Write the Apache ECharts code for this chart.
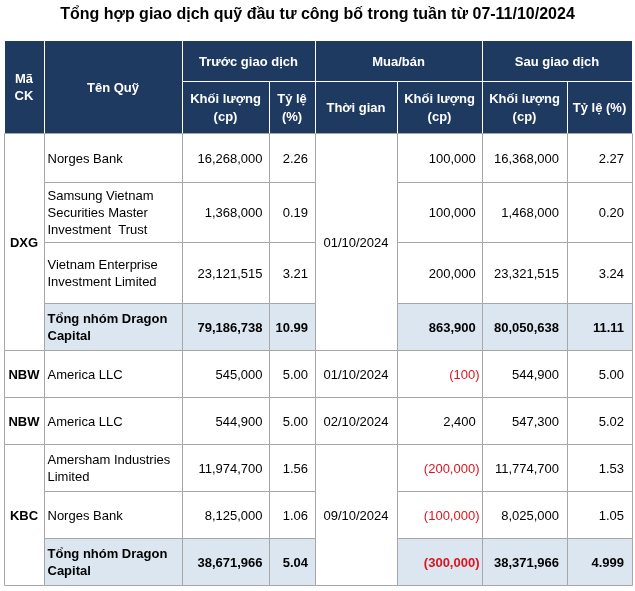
<!DOCTYPE html>
<html>
<head>
<meta charset="utf-8">
<script src="https://cdn.jsdelivr.net/npm/echarts@6/dist/echarts.min.js"></script>
<style>html,body{margin:0;padding:0;background:#fff}#c{width:635px;height:591px}</style>
</head>
<body>
<div id="c"></div>
<script>
// ---- data ----
const titleText = 'Tổng hợp giao dịch quỹ đầu tư công bố trong tuần từ 07-11/10/2024';
const groupHeaders = ['Trước giao dịch', 'Mua/bán', 'Sau giao dịch'];
const subHeaders = ['Khối lượng\n(cp)', 'Tỷ lệ\n(%)', 'Thời gian', 'Khối lượng\n(cp)', 'Khối lượng\n(cp)', 'Tỷ lệ (%)'];
const tickerHeader = 'Mã\nCK';
const fundHeader = 'Tên Quỹ';
const tickers = ['DXG', 'NBW', 'NBW', 'KBC'];
const tickerSpans = [[0, 3], [4, 4], [5, 5], [6, 8]];
const tradeDates = ['01/10/2024', '01/10/2024', '02/10/2024', '09/10/2024'];
const fundNames = ['Norges Bank', 'Samsung Vietnam\nSecurities Master\nInvestment  Trust', 'Vietnam Enterprise\nInvestment Limited', 'Tổng nhóm Dragon\nCapital', 'America LLC', 'America LLC', 'Amersham Industries\nLimited', 'Norges Bank', 'Tổng nhóm Dragon\nCapital'];
const beforeVol = [16268000, 1368000, 23121515, 79186738, 545000, 544900, 11974700, 8125000, 38671966];
const beforePct = ['2.26', '0.19', '3.21', '10.99', '5.00', '5.00', '1.56', '1.06', '5.04'];
const tradeVol = [100000, 100000, 200000, 863900, -100, 2400, -200000, -100000, -300000];
const afterVol = [16368000, 1468000, 23321515, 80050638, 544900, 547300, 11774700, 8025000, 38371966];
const afterPct = ['2.27', '0.20', '3.24', '11.11', '5.00', '5.02', '1.53', '1.05', '4.999'];
const totalRows = [3, 8];

// ---- layout ----
const colEdges = [4, 44, 182, 269, 315, 397, 482, 567, 632];
const rowEdges = [40, 81, 133, 182, 242, 303, 350, 397, 444, 491, 538, 585];
const NAVY = '#1f3a60', LIGHT = '#dce6f1', GRID = '#a6a6a6', RED = '#dc141e';
const FONT = '"Liberation Sans", Arial, sans-serif';

const cells = [];
function cell(c0, c1, r0, r1, o) {
  cells.push(Object.assign({ x0: colEdges[c0], x1: colEdges[c1], y0: rowEdges[r0], y1: rowEdges[r1] }, o));
}
// header
const H = { fill: NAVY, stroke: '#ffffff', color: '#ffffff', bold: true, align: 'center', lh: 18 };
cell(0, 1, 0, 2, Object.assign({ text: tickerHeader }, H, { lh: 17 }));
cell(1, 2, 0, 2, Object.assign({ text: fundHeader }, H));
groupHeaders.forEach((t, i) => cell(2 + 2 * i, 4 + 2 * i, 0, 1, Object.assign({ text: t }, H)));
subHeaders.forEach((t, i) => cell(2 + i, 3 + i, 1, 2, Object.assign({ text: t }, H)));
// spans
tickerSpans.forEach((s, i) => {
  cell(0, 1, s[0] + 2, s[1] + 3, { text: tickers[i], fill: '#fff', stroke: GRID, color: '#000', bold: true, align: 'center' });
  cell(4, 5, s[0] + 2, s[1] + 3, { text: tradeDates[i], fill: '#fff', stroke: GRID, color: '#000', bold: false, align: 'center' });
});
function fmt(v) { return Math.abs(v).toLocaleString('en-US'); }
fundNames.forEach((n, i) => {
  const tot = totalRows.indexOf(i) >= 0;
  const base = { fill: tot ? LIGHT : '#fff', stroke: GRID, color: '#000', bold: tot };
  const r = i + 2;
  cell(1, 2, r, r + 1, Object.assign({}, base, { text: n, align: 'left', pad: 3.5 }));
  cell(2, 3, r, r + 1, Object.assign({}, base, { text: fmt(beforeVol[i]), align: 'right', pad: 6.5 }));
  cell(3, 4, r, r + 1, Object.assign({}, base, { text: beforePct[i], align: 'right', pad: 7 }));
  const neg = tradeVol[i] < 0;
  cell(5, 6, r, r + 1, Object.assign({}, base, { text: neg ? '(' + fmt(tradeVol[i]) + ')' : fmt(tradeVol[i]), color: neg ? RED : '#000', align: 'right', pad: neg ? 2.5 : 6.3 }));
  cell(6, 7, r, r + 1, Object.assign({}, base, { text: fmt(afterVol[i]), align: 'right', pad: 8 }));
  cell(7, 8, r, r + 1, Object.assign({}, base, { text: afterPct[i], align: 'right', pad: 8 }));
});

const chart = echarts.init(document.getElementById('c'), null, { renderer: 'canvas' });
chart.setOption({
  animation: false,
  backgroundColor: '#ffffff',
  title: { text: titleText, left: 'center', top: 2, textStyle: { fontFamily: FONT, fontSize: 16, fontWeight: 'bold', color: '#000' } },
  grid: { left: 0, right: 0, top: 0, bottom: 0 },
  xAxis: { type: 'value', min: 0, max: 635, show: false },
  yAxis: { type: 'value', min: 0, max: 591, inverse: true, show: false },
  series: [{
    type: 'custom',
    coordinateSystem: 'cartesian2d',
    data: cells.map((c, i) => [c.x0, c.y0, c.x1, c.y1, i]),
    renderItem: function (params, api) {
      const c = cells[api.value(4)];
      const p0 = api.coord([api.value(0), api.value(1)]);
      const p1 = api.coord([api.value(2), api.value(3)]);
      const x = Math.round(p0[0]) + 0.5, y = Math.round(p0[1]) + 0.5;
      const w = Math.round(p1[0]) - Math.round(p0[0]), h = Math.round(p1[1]) - Math.round(p0[1]);
      let tx;
      if (c.align === 'left') tx = p0[0] + c.pad;
      else if (c.align === 'right') tx = p1[0] - c.pad;
      else tx = (p0[0] + p1[0]) / 2;
      return {
        type: 'group',
        children: [
          { type: 'rect', shape: { x: x, y: y, width: w, height: h }, style: { fill: c.fill, stroke: c.stroke, lineWidth: 1 } },
          { type: 'text', style: { x: tx, y: (p0[1] + p1[1]) / 2 + 1.5, text: c.text, fill: c.color, fontFamily: FONT, fontSize: 13, fontWeight: c.bold ? 'bold' : 'normal', align: c.align, verticalAlign: 'middle', lineHeight: c.lh || 17 } }
        ]
      };
    }
  }]
});
</script>
</body>
</html>
